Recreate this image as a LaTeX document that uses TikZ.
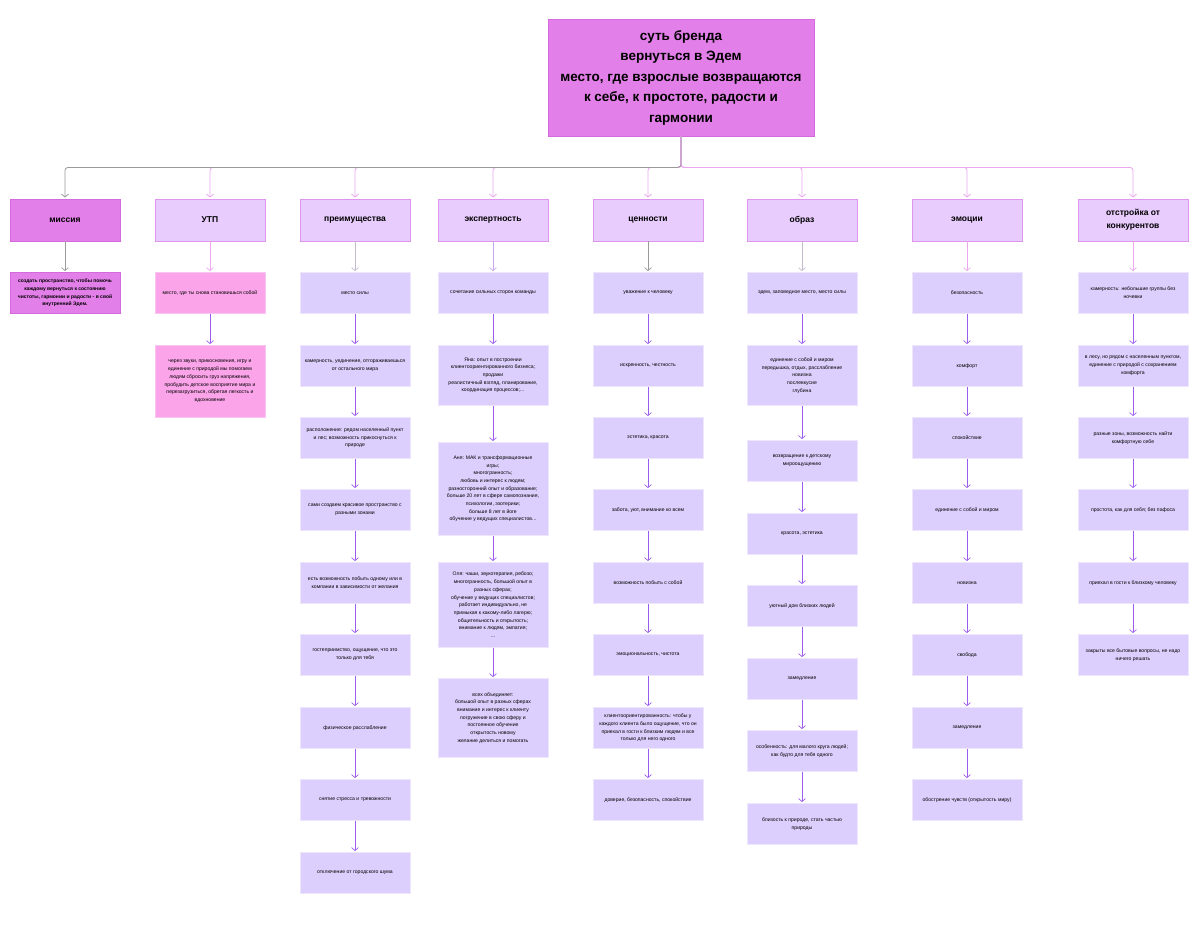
\documentclass[tikz,border=0pt]{standalone}
\usepackage{fontspec}
\setmainfont{Liberation Sans}
\usetikzlibrary{arrows.meta}
\definecolor{magb}{HTML}{E27FE8}
\definecolor{magbd}{HTML}{D46ADC}
\definecolor{lavL}{HTML}{E8CCFD}
\definecolor{lavLb}{HTML}{DE95EE}
\definecolor{lavT}{HTML}{DDCFFD}
\definecolor{lavTb}{HTML}{EEE6FB}
\definecolor{pinkbox}{HTML}{FBA4E9}
\definecolor{pinkboxb}{HTML}{F6C6F0}
\definecolor{arrP}{HTML}{9B5CF0}
\definecolor{arrPink}{HTML}{EBA8EE}
\definecolor{arrGray}{HTML}{9A9A9A}
\definecolor{arrLG}{HTML}{C4BACE}
\definecolor{arrLav}{HTML}{C9A8F0}
\begin{document}
\begin{tikzpicture}[x=1pt,y={(0pt,-1pt)},
  rootbox/.style={draw=magbd, fill=magb, line width=0.8pt, minimum width=266pt, minimum height=117pt,
    align=center, inner sep=0pt, font=\fontsize{13.5}{20.5}\selectfont\bfseries},
  lone/.style={draw=lavLb, fill=lavL, line width=0.8pt, minimum width=110pt, minimum height=42pt,
    align=center, inner xsep=3pt, inner ysep=0pt, font=\fontsize{8.5}{13}\selectfont\bfseries},
  ltwo/.style={draw=lavTb, fill=lavT, line width=0.7pt, minimum width=110pt, minimum height=41pt,
    align=center, inner xsep=3pt, inner ysep=0pt, anchor=north,
    font=\fontsize{5.1}{7.7}\selectfont},
  arr/.style={-{Straight Barb[length=3pt,width=7pt]}, line width=0.7pt, draw=arrP, shorten >=1pt},
  conn/.style={-{Straight Barb[length=3pt,width=7pt]}, line width=0.8pt, rounded corners=3pt, shorten >=1pt}
]
\fill[white] (0,0) rectangle (1200,932);
\useasboundingbox (0,0) rectangle (1200,932);

% root
\node[rootbox] (root) at (681,77.5) {суть бренда\\вернуться в Эдем\\место, где взрослые возвращаются\\к себе, к простоте, радости и\\гармонии};

% level one
\node[lone, fill=magb, draw=magbd] (m0) at (65,220) {миссия};
\node[lone] (u0) at (210,220) {УТП};
\node[lone] (p0) at (355,220) {преимущества};
\node[lone] (e0) at (493,220) {экспертность};
\node[lone] (c0) at (648,220) {ценности};
\node[lone] (o0) at (802,220) {образ};
\node[lone] (em0) at (967,220) {эмоции};
\node[lone] (k0) at (1133,220) {отстройка от\\конкурентов};

% top connectors
\foreach \n in {u0,p0,e0,c0,o0,em0,k0}
  \draw[conn, draw=arrPink] (root.south) -- ++(0,31) -| (\n.north);
\draw[conn, draw=arrGray] (root.south) -- ++(0,31) -| (m0.north);

% миссия
\node[ltwo, fill=magb, draw=magbd, font=\fontsize{5}{7.7}\selectfont\bfseries] (m1) at (65,272) {создать пространство, чтобы помочь\\каждому вернуться к состоянию\\чистоты, гармонии и радости - в свой\\внутренний Эдем.};
\draw[arr, draw=arrGray] (m0) -- (m1);

% УТП
\node[ltwo, fill=pinkbox, draw=pinkboxb] (u1) at (210,272) {место, где ты снова становишься собой};
\node[ltwo, fill=pinkbox, draw=pinkboxb, minimum height=72pt] (u2) at (210,345) {через звуки, прикосновения, игру и\\единение с природой мы помогаем\\людям сбросить груз напряжения,\\пробудить детское восприятие мира и\\перезагрузиться, обретая легкость и\\вдохновение};
\draw[arr, draw=arrPink] (u0) -- (u1);
\draw[arr] (u1) -- (u2);

% преимущества
\node[ltwo] (p1) at (355,272) {место силы};
\node[ltwo] (p2) at (355,345) {камерность, уединение, отгораживаешься\\от остального мира};
\node[ltwo] (p3) at (355,417) {расположение: рядом населенный пункт\\и лес; возможность прикоснуться к\\природе};
\node[ltwo] (p4) at (355,489) {сами создаем красивое пространство с\\разными зонами};
\node[ltwo] (p5) at (355,562) {есть возможность побыть одному или в\\компании в зависимости от желания};
\node[ltwo] (p6) at (355,634) {гостеприимство, ощущение, что это\\только для тебя};
\node[ltwo] (p7) at (355,707) {физическое расслабление};
\node[ltwo] (p8) at (355,779) {снятие стресса и тревожности};
\node[ltwo] (p9) at (355,852) {отключение от городского шума};
\draw[arr, draw=arrLG] (p0) -- (p1);
\foreach \a/\b in {p1/p2,p2/p3,p3/p4,p4/p5,p5/p6,p6/p7,p7/p8,p8/p9}
  \draw[arr] (\a) -- (\b);

% экспертность
\node[ltwo] (e1) at (493,272) {сочетание сильных сторон команды};
\node[ltwo, minimum height=60pt] (e2) at (493,345) {Яна: опыт в построении\\клиентоориентированного бизнеса;\\продажи\\реалистичный взгляд, планирование,\\координация процессов;...};
\node[ltwo, minimum height=93pt] (e3) at (493,442) {Аня: МАК и трансформационные\\игры;\\многогранность;\\любовь и интерес к людям;\\разносторонний опыт и образование;\\больше 20 лет в сфере самопознания,\\психологии, эзотерики;\\больше 8 лет в йоге\\обучение у ведущих специалистов...};
\node[ltwo, minimum height=85pt] (e4) at (493,562) {Оля: чаши, звукотерапия, ребозо;\\многогранность, большой опыт в\\разных сферах;\\обучение у ведущих специалистов;\\работает индивидуально, не\\примыкая к какому-либо лагерю;\\общительность и открытость;\\внимание к людям, эмпатия;\\...};
\node[ltwo, minimum height=79pt] (e5) at (493,678) {всех объединяет:\\большой опыт в разных сферах\\внимание и интерес к клиенту\\погружение в свою сферу и\\постоянное обучение\\открытость новому\\желание делиться и помогать};
\draw[arr, draw=arrLav] (e0) -- (e1);
\foreach \a/\b in {e1/e2,e2/e3,e3/e4,e4/e5}
  \draw[arr] (\a) -- (\b);

% ценности
\node[ltwo] (c1) at (648,272) {уважение к человеку};
\node[ltwo] (c2) at (648,345) {искренность, честность};
\node[ltwo] (c3) at (648,417) {эстетика, красота};
\node[ltwo] (c4) at (648,489) {забота, уют, внимание ко всем};
\node[ltwo] (c5) at (648,562) {возможность побыть с собой};
\node[ltwo] (c6) at (648,634) {эмоциональность, чистота};
\node[ltwo] (c7) at (648,707) {клиентоориентированность: чтобы у\\каждого клиента было ощущение, что он\\приехал в гости к близким людям и все\\только для него одного};
\node[ltwo] (c8) at (648,779) {доверие, безопасность, спокойствие};
\draw[arr, draw=arrGray] (c0) -- (c1);
\foreach \a/\b in {c1/c2,c2/c3,c3/c4,c4/c5,c5/c6,c6/c7,c7/c8}
  \draw[arr] (\a) -- (\b);

% образ
\node[ltwo] (o1) at (802,272) {эдем, заповедное место, место силы};
\node[ltwo, minimum height=60pt] (o2) at (802,345) {единение с собой и миром\\передышка, отдых, расслабление\\новизна\\послевкусие\\глубина};
\node[ltwo] (o3) at (802,440) {возвращение к детскому\\мироощущению};
\node[ltwo] (o4) at (802,513) {красота, эстетика};
\node[ltwo] (o5) at (802,585) {уютный дом близких людей};
\node[ltwo] (o6) at (802,658) {замедление};
\node[ltwo] (o7) at (802,730) {особенность: для малого круга людей;\\как будто для тебя одного};
\node[ltwo] (o8) at (802,803) {близость к природе, стать частью\\природы};
\draw[arr, draw=arrLG] (o0) -- (o1);
\foreach \a/\b in {o1/o2,o2/o3,o3/o4,o4/o5,o5/o6,o6/o7,o7/o8}
  \draw[arr] (\a) -- (\b);

% эмоции
\node[ltwo] (em1) at (967,272) {безопасность};
\node[ltwo] (em2) at (967,345) {комфорт};
\node[ltwo] (em3) at (967,417) {спокойствие};
\node[ltwo] (em4) at (967,489) {единение с собой и миром};
\node[ltwo] (em5) at (967,562) {новизна};
\node[ltwo] (em6) at (967,634) {свобода};
\node[ltwo] (em7) at (967,707) {замедление};
\node[ltwo] (em8) at (967,779) {обострение чувств (открытость миру)};
\draw[arr, draw=arrPink] (em0) -- (em1);
\foreach \a/\b in {em1/em2,em2/em3,em3/em4,em4/em5,em5/em6,em6/em7,em7/em8}
  \draw[arr] (\a) -- (\b);

% отстройка
\node[ltwo] (k1) at (1133,272) {камерность: небольшие группы без\\ночевки};
\node[ltwo] (k2) at (1133,345) {в лесу, но рядом с населенным пунктом,\\единение с природой с сохранением\\комфорта};
\node[ltwo] (k3) at (1133,417) {разные зоны, возможность найти\\комфортную себе};
\node[ltwo] (k4) at (1133,489) {простота, как для себя; без пафоса};
\node[ltwo] (k5) at (1133,562) {приехал в гости к близкому человеку};
\node[ltwo] (k6) at (1133,634) {закрыты все бытовые вопросы, не надо\\ничего решать};
\draw[arr, draw=arrPink] (k0) -- (k1);
\foreach \a/\b in {k1/k2,k2/k3,k3/k4,k4/k5,k5/k6}
  \draw[arr] (\a) -- (\b);
\end{tikzpicture}
\end{document}
